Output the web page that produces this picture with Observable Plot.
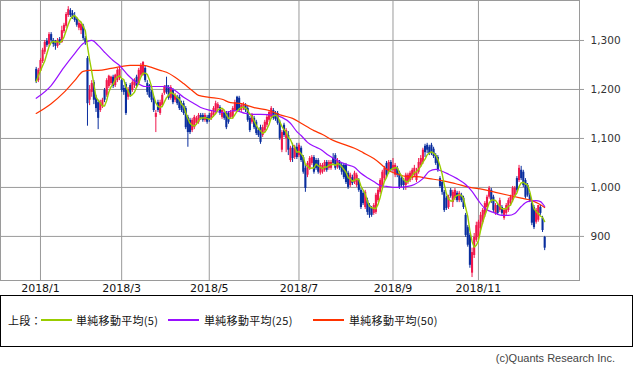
<!DOCTYPE html>
<html><head><meta charset="utf-8">
<script src="https://cdn.jsdelivr.net/npm/d3@7"></script>
<script src="https://cdn.jsdelivr.net/npm/@observablehq/plot@0.6"></script>
<style>
body{margin:0;background:#fff;}
#chart svg{display:block;}
#legend{box-sizing:border-box;width:633px;height:52px;border:1px solid #000;position:relative;font-family:"Noto Sans CJK JP",sans-serif;font-size:11px;color:#111;}
#legend .t{position:absolute;top:17px;line-height:14px;white-space:nowrap;letter-spacing:0.3px;}
#legend .l{position:absolute;top:23px;height:1.5px;}
#copy{font-family:"Liberation Sans",sans-serif;font-size:11px;color:#444;text-align:right;padding-right:18px;margin-top:5px;}
</style></head><body>
<div id="chart"></div>
<div id="legend"></div>
<div id="copy">(c)Quants Research Inc.</div>
<script>
// Daily candles (Dec 28 2017 .. Dec 2018), index = trading day
const openP = [1241,1218,1237,1257,1276,1298,1292,1312,1300,1296,
1288,1302,1296,1318,1329,1351,1361,1355,1349,1343,
1325,1320,1329,1304,1263,1178,1194,1214,1184,1173,
1157,1165,1198,1188,1206,1212,1225,1208,1218,1222,
1218,1202,1210,1184,1208,1198,1208,1225,1212,1229,
1229,1243,1212,1208,1194,1182,1143,1173,1151,1167,
1192,1208,1204,1182,1198,1178,1184,1184,1171,1171,
1161,1143,1137,1116,1122,1131,1133,1147,1147,1137,
1143,1147,1141,1147,1153,1161,1163,1143,1153,1151,
1151,1143,1143,1157,1184,1182,1157,1161,1167,1161,
1141,1133,1141,1133,1116,1122,1106,1116,1127,1137,
1143,1157,1151,1151,1133,1076,1127,1100,1106,1055,
1080,1061,1082,1065,1080,1061,1039,1025,1039,1049,
1061,1055,1055,1029,1031,1035,1051,1039,1039,1059,
1065,1041,1051,1045,1045,1045,1029,1004,1020,1010,
1004,1014,994,988,959,973,963,957,947,949,
973,990,1000,1018,1049,1031,1051,1035,1025,1039,
1029,1018,1014,1004,1010,1014,1018,1025,1014,1031,
1045,1051,1084,1086,1082,1086,1078,1065,1061,1018,
1010,990,978,959,994,969,978,988,973,984,
978,943,918,902,825,861,892,898,916,929,
943,959,980,994,980,947,963,953,959,937,
947,953,967,973,984,1018,1014,1035,1031,1014,
1004,984,967,959,929,933,959,937,898];
const highP = [1245,1243,1263,1284,1300,1304,1316,1316,1304,1300,
1304,1306,1329,1335,1357,1369,1365,1361,1357,1347,
1339,1337,1333,1308,1267,1208,1218,1218,1188,1178,
1178,1182,1202,1222,1229,1227,1229,1231,1243,1245,
1222,1208,1214,1204,1212,1218,1222,1229,1243,1253,
1257,1247,1218,1210,1198,1186,1157,1178,1178,1192,
1208,1225,1208,1208,1202,1192,1188,1188,1176,1176,
1165,1147,1141,1141,1147,1145,1151,1151,1151,1151,
1147,1151,1155,1165,1176,1173,1167,1161,1157,1155,
1155,1157,1165,1178,1186,1186,1171,1173,1171,1165,
1145,1151,1145,1137,1120,1127,1127,1137,1147,1157,
1165,1161,1155,1155,1137,1116,1131,1120,1114,1084,
1090,1086,1090,1090,1084,1065,1045,1053,1063,1065,
1065,1059,1059,1049,1049,1055,1055,1055,1055,1069,
1069,1059,1055,1049,1049,1049,1033,1029,1025,1033,
1029,1018,998,992,994,978,967,961,967,988,
998,1018,1035,1043,1053,1055,1055,1059,1049,1043,
1033,1022,1018,1029,1029,1033,1039,1045,1039,1059,
1065,1080,1088,1090,1086,1090,1082,1069,1065,1022,
1014,994,982,984,998,994,998,992,992,988,
982,947,922,906,876,906,929,933,949,957,
971,984,1002,998,984,967,967,978,963,957,
967,978,984,1002,1002,1022,1045,1043,1035,1018,
1008,988,971,963,957,963,963,941,900];
const lowP = [1212,1214,1235,1253,1271,1286,1288,1294,1286,1280,
1284,1290,1294,1314,1325,1347,1347,1343,1337,1327,
1320,1312,1300,1290,1125,1167,1184,1169,1153,1118,
1153,1161,1173,1184,1202,1208,1202,1204,1214,1218,
1194,1188,1147,1178,1184,1194,1202,1202,1208,1225,
1227,1214,1188,1182,1173,1153,1112,1153,1147,1163,
1188,1190,1178,1178,1169,1173,1167,1157,1153,1147,
1118,1082,1108,1112,1118,1127,1129,1137,1133,1133,
1129,1133,1137,1143,1149,1157,1147,1139,1137,1118,
1129,1139,1139,1153,1153,1153,1153,1157,1153,1133,
1112,1129,1118,1106,1102,1088,1102,1112,1122,1133,
1139,1137,1135,1127,1096,1071,1102,1071,1065,1051,
1051,1057,1057,1061,1051,1027,990,1020,1035,1045,
1027,1035,1027,1025,1027,1031,1031,1035,1035,1045,
1035,1037,1035,1025,1016,1006,996,1000,1004,1006,
1000,990,955,963,955,943,937,939,943,945,
969,986,996,1014,1020,1027,1031,1031,1020,1020,
996,1000,994,994,1006,1010,1014,1020,1010,1027,
1041,1047,1061,1069,1065,1065,1059,1045,1031,998,
984,949,953,955,978,959,973,969,969,969,
955,898,878,835,816,855,888,894,912,925,
939,955,976,967,949,943,943,949,943,933,
943,949,963,969,980,990,1010,1014,1000,976,
980,969,922,914,925,929,943,908,871];
const closeP = [1216,1239,1259,1280,1296,1290,1312,1300,1292,1288,
1300,1296,1320,1331,1353,1363,1351,1347,1341,1331,
1335,1333,1304,1296,1171,1198,1212,1178,1161,1141,
1173,1178,1178,1218,1227,1225,1206,1229,1239,1241,
1198,1194,1151,1200,1188,1214,1218,1206,1239,1249,
1255,1218,1194,1184,1178,1157,1151,1157,1173,1188,
1204,1194,1182,1204,1173,1188,1171,1161,1157,1151,
1122,1112,1112,1137,1143,1141,1147,1141,1137,1147,
1133,1137,1151,1161,1171,1169,1151,1157,1141,1122,
1133,1153,1161,1173,1157,1157,1167,1169,1157,1137,
1116,1147,1122,1110,1106,1092,1122,1133,1143,1153,
1161,1141,1139,1131,1100,1112,1106,1116,1076,1080,
1059,1082,1061,1086,1055,1031,998,1049,1059,1061,
1031,1039,1031,1045,1045,1051,1035,1051,1051,1049,
1039,1055,1039,1031,1020,1010,1000,1025,1008,1029,
1025,994,959,967,990,949,943,943,963,984,
994,1014,1031,1039,1025,1051,1035,1045,1045,1025,
1000,1004,1004,1025,1025,1029,1035,1039,1031,1051,
1059,1076,1071,1076,1069,1071,1063,1049,1035,1002,
990,953,957,980,982,990,994,973,988,973,
959,902,882,841,867,898,922,929,943,953,
967,980,998,973,953,963,947,973,947,953,
963,973,980,998,998,994,1039,1018,1004,980,
984,973,927,918,953,963,947,912,876];

// 25-day and 50-day simple moving averages (trading-day index, value)
const ma25Idx = [0,7,13,18,22,24,26,29,32,36,39,43,47,51,55,59,62,65,69,74,77,82,88,93,98,101,105,112,115,119,122,124,127,130,133,137,141,145,149,152,155,158,161,164,169,174,177,181,184,187,190,193,197,201,204,207,210,214,218,221,224,227,230,234,236,238];
const ma25Val = [1182,1208,1245,1273,1294,1298,1300,1290,1276,1259,1249,1229,1214,1206,1206,1206,1204,1198,1184,1171,1163,1157,1153,1157,1151,1149,1149,1147,1143,1131,1114,1106,1092,1084,1078,1065,1055,1047,1041,1029,1020,1012,1004,1002,1000,1002,1006,1018,1033,1037,1033,1027,1018,1006,992,973,957,949,943,943,947,961,971,973,971,961];
const ma50Idx = [0,7,13,18,22,25,29,35,40,44,50,54,58,61,65,69,73,76,81,87,91,96,102,109,115,120,124,130,134,139,144,149,153,158,161,164,169,174,178,184,190,196,203,209,215,221,227,232,235,238];
const ma50Val = [1151,1171,1194,1218,1237,1239,1239,1243,1247,1249,1249,1245,1239,1235,1225,1212,1198,1188,1184,1180,1173,1171,1163,1157,1147,1141,1131,1116,1108,1096,1088,1080,1071,1059,1049,1037,1027,1022,1022,1018,1014,1008,1000,996,990,984,978,973,967,959];

// month-start trading-day indexes and their labels
const monthIdx = [2, 40, 81, 123, 167, 207];
const monthLabels = ["2018/1","2018/3","2018/5","2018/7","2018/9","2018/11"];
const yTicks = [900, 1000, 1100, 1200, 1300];

const maLabels = ["単純移動平均(5)", "単純移動平均(25)", "単純移動平均(50)"];
const maColors = ["#99cc00", "#9910ff", "#ff3300"];
const UP = "#f0184c", DOWN = "#0a2e9e", GRID = "#9a9a9a";

const candles = closeP.map((c, i) => ({i, o: openP[i], h: highP[i], l: lowP[i], c, col: c >= openP[i] ? UP : DOWN}));
const ma25 = ma25Idx.map((d, k) => ({i: d, v: ma25Val[k]}));
const ma50 = ma50Idx.map((d, k) => ({i: d, v: ma50Val[k]}));

const chart = Plot.plot({
  width: 633, height: 295,
  marginLeft: 0, marginRight: 54, marginTop: 0, marginBottom: 15,
  style: {fontFamily: "DejaVu Sans, sans-serif", fontSize: "11px", color: "#222", background: "#fff"},
  x: {domain: [-16.71, 254.3], ticks: monthIdx, tickFormat: (d) => monthLabels[monthIdx.indexOf(d)], tickSize: 0, tickPadding: 4, label: null},
  y: {domain: [810, 1381.6], axis: "right", ticks: yTicks, tickFormat: d3.format(","), tickSize: 4, tickPadding: 7, label: null},
  marks: [
    Plot.ruleX(monthIdx, {stroke: GRID, strokeWidth: 1}),
    Plot.ruleY(yTicks, {stroke: GRID, strokeWidth: 1}),
    Plot.frame({stroke: GRID}),
    Plot.ruleX(candles, {x: "i", y1: "l", y2: "h", stroke: "col", strokeWidth: 1}),
    Plot.ruleX(candles, {x: "i", y1: "o", y2: "c", stroke: "col", strokeWidth: 2.1}),
    Plot.line(ma50, {x: "i", y: "v", stroke: maColors[2], strokeWidth: 1.2, curve: "monotone-x"}),
    Plot.line(ma25, {x: "i", y: "v", stroke: maColors[1], strokeWidth: 1.2, curve: "monotone-x"}),
    Plot.lineY(candles, Plot.windowY({k: 5, anchor: "end"}, {x: "i", y: "c", stroke: maColors[0], strokeWidth: 1.4}))
  ]
});
document.getElementById("chart").appendChild(chart);
// axis styling
d3.select(chart).selectAll('g[aria-label^="y-axis"] line, g[aria-label^="y-axis"] path').attr("stroke", GRID).style("stroke", GRID);
d3.select(chart).selectAll('g[aria-label^="y-axis"] text').style("font-size", "10.5px").attr("fill", "#333");
d3.select(chart).selectAll('g[aria-label^="x-axis"] text').attr("fill", "#111");

// legend
const leg = document.getElementById("legend");
const hdr = document.createElement("div");
hdr.className = "t"; hdr.style.left = "7px"; hdr.textContent = "上段：";
leg.appendChild(hdr);
const lineLefts = [40, 167, 312], textLefts = [75, 203, 348];
maLabels.forEach((lab, k) => {
  const ln = document.createElement("div");
  ln.className = "l"; ln.style.left = lineLefts[k] + "px"; ln.style.width = "31px"; ln.style.backgroundColor = maColors[k];
  leg.appendChild(ln);
  const tx = document.createElement("div");
  tx.className = "t"; tx.style.left = textLefts[k] + "px"; tx.textContent = lab;
  leg.appendChild(tx);
});
</script></body></html>
